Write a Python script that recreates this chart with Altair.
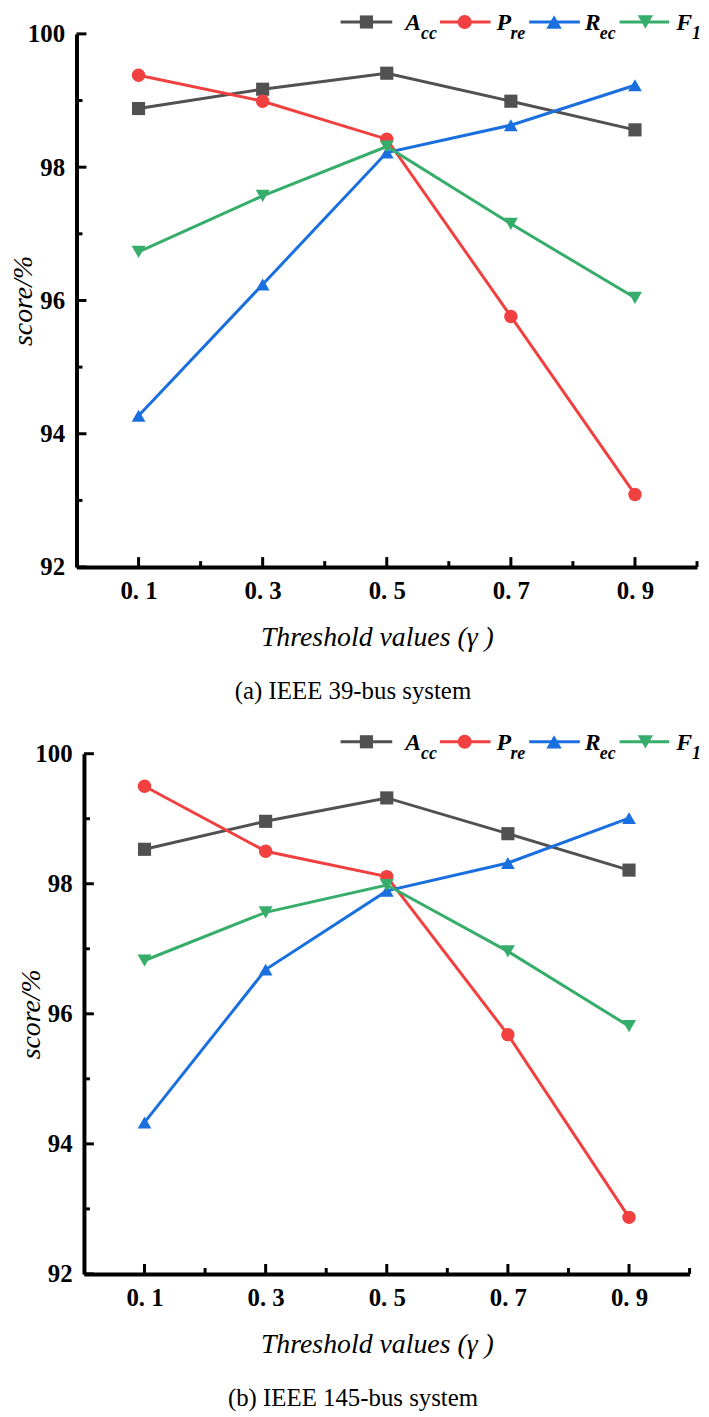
import altair as alt
import pandas as pd

# ---------------- data ----------------
gamma = [0.1, 0.3, 0.5, 0.7, 0.9]
series = ["Acc", "Pre", "Rec", "F1"]
colors = ["#515151", "#F14040", "#1A6FDF", "#37AD6B"]
shapes = ["square", "circle", "triangle-up", "triangle-down"]
marker_sizes = [175, 200, 240, 240]

# (a) IEEE 39-bus system
acc_a = [98.88, 99.17, 99.41, 98.99, 98.56]
pre_a = [99.38, 98.99, 98.42, 95.76, 93.09]
rec_a = [94.27, 96.24, 98.22, 98.63, 99.23]
f1_a = [96.73, 97.57, 98.31, 97.15, 96.04]

# (b) IEEE 145-bus system
acc_b = [98.53, 98.96, 99.32, 98.77, 98.21]
pre_b = [99.50, 98.50, 98.11, 95.68, 92.87]
rec_b = [94.33, 96.68, 97.89, 98.32, 99.01]
f1_b = [96.82, 97.56, 97.98, 96.96, 95.81]

x_major = [0.1, 0.3, 0.5, 0.7, 0.9]
x_minor = [0.2, 0.4, 0.6, 0.8, 1.0]
x_tick_labels = ["0. 1", "0. 3", "0. 5", "0. 7", "0. 9"]
y_major = [92, 94, 96, 98, 100]
y_minor = [93, 95, 97, 99]

legend_main = ["A", "P", "R", "F"]
legend_sub = ["cc", "re", "ec", "1"]
captions = ["(a) IEEE 39-bus system", "(b) IEEE 145-bus system"]
x_title = "Threshold values (\u03b3 )"
y_title = "score/%"

FONT = "Liberation Serif"

# legend layout (pixels relative to plot left / top)
LEG_LINE = [(266, 318), (366, 417), (456, 507), (547, 597)]
LEG_MARK = [292, 391, 481, 573]
LEG_MAIN = [331, 423, 512, 604]
LEG_SUB = [347, 437, 527, 620]
LEG_Y_LINE, LEG_Y_MAIN, LEG_Y_SUB = -12, -4, 5


def panel(values, caption, W, H, dx):
    rows = []
    for s, vals in zip(series, values):
        for g, v in zip(gamma, vals):
            rows.append({"gamma": g, "score": v, "series": s})
    df = pd.DataFrame(rows)

    xs = alt.Scale(domain=[0, 1], nice=False, zero=False)
    ys = alt.Scale(domain=[92, 100], nice=False, zero=False)
    color = alt.Color("series:N", scale=alt.Scale(domain=series, range=colors), legend=None)

    label_expr = "[" + ",".join("'%s'" % t for t in x_tick_labels) + "][round((datum.value - 0.1) / 0.2)]"

    xaxis = alt.Axis(
        values=x_major, labelExpr=label_expr, ticks=False, tickSize=0, grid=False,
        domainColor="black", domainWidth=4, labelFont=FONT, labelFontSize=25,
        labelFontWeight="bold", labelColor="black", labelPadding=12, labelFlush=False,
        labelOverlap=False, title=x_title, titleFont=FONT, titleFontStyle="italic",
        titleFontWeight="normal", titleFontSize=28, titleColor="black", titlePadding=20,
        titleX=W / 2 - 10,
    )
    yaxis = alt.Axis(
        values=y_major, format="d", ticks=False, tickSize=0, grid=False,
        domainColor="black", domainWidth=4, labelFont=FONT, labelFontSize=25,
        labelFontWeight="bold", labelColor="black", labelPadding=12, labelFlush=False,
        labelOverlap=False, title=y_title, titleFont=FONT, titleFontStyle="italic",
        titleFontWeight="normal", titleFontSize=28, titleColor="black",
        titleX=-39, titleY=H / 2, titleAngle=270, titleBaseline="bottom",
    )

    X = lambda f: alt.X(f, scale=xs, axis=xaxis)
    Y = lambda f: alt.Y(f, scale=ys, axis=yaxis)

    lines = alt.Chart(df).mark_line(strokeWidth=3).encode(
        x=X("gamma:Q"), y=Y("score:Q"), color=color, detail="series:N",
    )
    pts = alt.Chart(df).mark_point(filled=True, opacity=1).encode(
        x=X("gamma:Q"), y=Y("score:Q"), color=color,
        shape=alt.Shape("series:N", scale=alt.Scale(domain=series, range=shapes), legend=None),
        size=alt.Size("series:N", scale=alt.Scale(domain=series, range=marker_sizes), legend=None),
    )

    def xt(vals, length):
        return alt.Chart(pd.DataFrame({"gamma": vals})).mark_rule(color="black", strokeWidth=3).encode(
            x=X("gamma:Q"), y=alt.value(H), y2=alt.value(H - length)
        )

    def yt(vals, length):
        return alt.Chart(pd.DataFrame({"score": vals})).mark_rule(color="black", strokeWidth=3).encode(
            y=Y("score:Q"), x=alt.value(0), x2=alt.value(length)
        )

    layers = [lines, pts, xt(x_major, 10), xt(x_minor, 6), yt(y_major, 10), yt(y_minor, 6)]

    one = pd.DataFrame({"k": [0]})
    for i in range(len(series)):
        a, b = LEG_LINE[i]
        layers.append(alt.Chart(one).mark_rule(color=colors[i], strokeWidth=3).encode(
            x=alt.value(a + dx), x2=alt.value(b + dx), y=alt.value(LEG_Y_LINE)))
        layers.append(alt.Chart(one).mark_point(shape=shapes[i], filled=True, opacity=1,
                                                 size=marker_sizes[i], color=colors[i]).encode(
            x=alt.value(LEG_MARK[i] + dx), y=alt.value(LEG_Y_LINE)))
        layers.append(alt.Chart(one).mark_text(text=legend_main[i], font=FONT, fontSize=24,
                                                fontStyle="italic", fontWeight="bold", align="left",
                                                baseline="alphabetic", color="black").encode(
            x=alt.value(LEG_MAIN[i] + dx), y=alt.value(LEG_Y_MAIN)))
        layers.append(alt.Chart(one).mark_text(text=legend_sub[i], font=FONT, fontSize=18,
                                                fontStyle="italic", fontWeight="bold", align="left",
                                                baseline="alphabetic", color="black").encode(
            x=alt.value(LEG_SUB[i] + dx), y=alt.value(LEG_Y_SUB)))

    return alt.layer(*layers).properties(
        width=W, height=H,
        title=alt.TitleParams(text=caption, orient="bottom", anchor="middle", font=FONT,
                              fontSize=25, fontWeight="normal", color="black", offset=28, dx=-34),
    )


p1 = panel([acc_a, pre_a, rec_a, f1_a], captions[0], 625, 537, 0)
p2 = panel([acc_b, pre_b, rec_b, f1_b], captions[1], 610, 524, -7.5)

chart = alt.vconcat(p1, p2, spacing=188, bounds="flush", center=True).properties(
    padding={"top": -2, "left": 2, "right": 0, "bottom": 0}, background="white"
).configure_view(stroke=None)

chart.save("out.html", embed_options={"renderer": "svg", "actions": False})
